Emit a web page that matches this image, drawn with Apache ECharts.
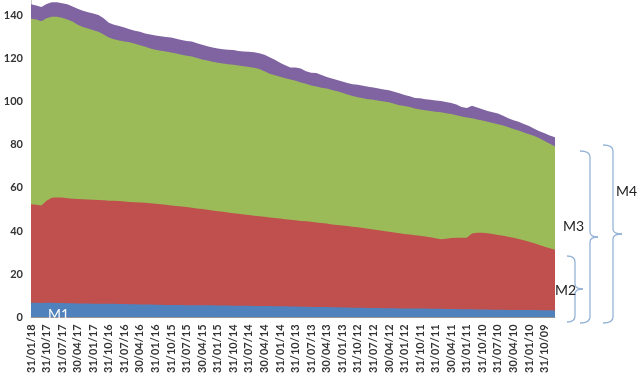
<!DOCTYPE html>
<html>
<head>
<meta charset="utf-8">
<script src="https://cdn.jsdelivr.net/npm/echarts@6/dist/echarts.min.js"></script>
<style>
html,body{margin:0;padding:0;background:#fff;}
#chart{width:640px;height:376px;}
</style>
</head>
<body>
<div id="chart"></div>
<script>
// Month-end categories, most recent first (Jan 2018 back to Aug 2009)
function monthEndLabels(startYear, startMonth, count) {
  var out = [];
  for (var k = 0; k < count; k++) {
    var d = new Date(startYear, startMonth - k, 0); // last day of month (startMonth-k)
    var dd = ('0' + d.getDate()).slice(-2);
    var mm = ('0' + (d.getMonth() + 1)).slice(-2);
    var yy = ('' + d.getFullYear()).slice(-2);
    out.push(dd + '/' + mm + '/' + yy);
  }
  return out;
}
var categories = monthEndLabels(2018, 1, 102);

var m1 = [6.8, 6.8, 6.7, 6.8, 6.8, 6.7, 6.7, 6.6, 6.6, 6.5,
  6.5, 6.5, 6.4, 6.4, 6.3, 6.3, 6.3, 6.2, 6.2, 6.1,
  6.1, 6.0, 6.0, 6.0, 5.9, 5.9, 5.8, 5.8, 5.8, 5.8,
  5.7, 5.7, 5.7, 5.6, 5.6, 5.6, 5.5, 5.5, 5.5, 5.4,
  5.4, 5.4, 5.4, 5.3, 5.3, 5.3, 5.3, 5.2, 5.2, 5.2,
  5.1, 5.1, 5.0, 5.0, 4.9, 4.9, 4.8, 4.8, 4.7, 4.7,
  4.6, 4.6, 4.5, 4.5, 4.5, 4.4, 4.4, 4.4, 4.3, 4.3,
  4.3, 4.2, 4.2, 4.2, 4.1, 4.1, 4.1, 4.0, 4.0, 4.0,
  3.9, 3.9, 3.9, 3.8, 3.8, 3.8, 3.7, 3.7, 3.7, 3.6,
  3.6, 3.6, 3.5, 3.5, 3.5, 3.4, 3.4, 3.4, 3.3, 3.3,
  3.3, 3.2];

var m2 = [52.4, 52.2, 51.8, 54.0, 55.4, 55.6, 55.5, 55.2, 55.0, 54.8,
  54.7, 54.6, 54.5, 54.4, 54.3, 54.1, 54.0, 53.9, 53.7, 53.5,
  53.4, 53.2, 53.1, 52.9, 52.6, 52.4, 52.2, 51.9, 51.6, 51.4,
  51.1, 50.8, 50.5, 50.2, 49.9, 49.5, 49.2, 48.9, 48.6, 48.2,
  48.0, 47.7, 47.4, 47.1, 46.9, 46.6, 46.3, 46.1, 45.8, 45.5,
  45.2, 45.0, 44.7, 44.5, 44.3, 44.0, 43.7, 43.5, 43.1, 42.8,
  42.6, 42.3, 42.0, 41.8, 41.4, 41.1, 40.7, 40.4, 40.0, 39.7,
  39.4, 39.0, 38.7, 38.4, 38.1, 37.8, 37.5, 37.1, 36.7, 36.2,
  36.5, 36.8, 36.9, 36.9, 36.9, 38.9, 39.2, 39.2, 39.0, 38.6,
  38.2, 37.8, 37.4, 36.9, 36.3, 35.8, 35.1, 34.4, 33.6, 32.8,
  32.0, 31.3];

var m3 = [138.3, 138.0, 137.2, 138.5, 139.3, 139.2, 138.8, 138.0, 137.0, 135.5,
  134.5, 133.8, 133.0, 132.3, 131.0, 129.6, 128.8, 128.2, 127.8, 127.4,
  126.7, 126.0, 125.3, 124.6, 124.0, 123.5, 123.2, 122.7, 122.2, 121.6,
  121.2, 120.8, 120.2, 119.5, 119.0, 118.4, 117.9, 117.6, 117.3, 117.0,
  116.7, 116.3, 116.0, 115.6, 115.0, 114.0, 112.9, 112.2, 111.5, 110.8,
  110.2, 109.6, 108.8, 108.2, 107.4, 107.0, 106.4, 106.0, 105.3, 104.7,
  104.0, 103.2, 102.6, 102.0, 101.5, 101.0, 100.8, 100.4, 100.0, 99.6,
  99.0, 98.3, 97.9, 97.5, 96.8, 96.3, 96.0, 95.6, 95.2, 95.0,
  94.6, 94.2, 93.6, 93.0, 92.6, 92.2, 91.7, 91.2, 90.6, 90.1,
  89.5, 88.9, 88.1, 87.3, 86.6, 85.6, 84.8, 84.0, 83.0, 81.7,
  80.4, 79.2];

var m4 = [145.0, 144.5, 143.8, 145.2, 146.0, 146.0, 145.5, 145.0, 144.0, 143.0,
  142.0, 141.3, 140.8, 140.0, 138.5, 136.5, 135.5, 135.0, 134.3, 133.5,
  132.8, 132.3, 131.5, 131.0, 130.6, 130.2, 129.9, 129.6, 129.0, 128.5,
  128.0, 127.8, 127.0, 126.3, 125.6, 125.0, 124.5, 124.2, 124.0, 123.8,
  123.4, 123.2, 123.0, 122.8, 122.3, 121.6, 120.5, 119.3, 118.0, 116.8,
  115.8, 115.7, 115.3, 114.0, 113.3, 113.2, 112.3, 111.4, 110.6, 110.0,
  109.3, 108.6, 108.0, 107.8, 107.3, 106.8, 106.5, 106.0, 105.6, 105.2,
  104.5, 103.8, 103.0, 102.4, 101.6, 101.5, 101.0, 100.8, 100.5, 100.2,
  99.8, 99.3, 98.6, 97.4, 97.0, 98.0, 97.2, 96.4, 95.6, 95.0,
  94.4, 93.4, 92.3, 91.3, 90.6, 89.6, 88.6, 87.4, 86.2, 85.3,
  84.3, 83.5];

var seriesNames = ['M4', 'M3', 'M2', 'M1'];
var seriesData = [m4, m3, m2, m1];
var seriesColors = ['#8064A2', '#9BBB59', '#C0504D', '#4F81BD'];

var braceColor = '#95B3D7';
function brace(x, top, bottom, mid, hook, tip) {
  var st = { stroke: braceColor, lineWidth: 1.3, fill: null };
  return [
    { type: 'bezierCurve', shape: { x1: x - hook, y1: top, x2: x, y2: top + 6, cpx1: x, cpy1: top }, style: st },
    { type: 'line', shape: { x1: x, y1: top + 6, x2: x, y2: mid - 5 }, style: st },
    { type: 'bezierCurve', shape: { x1: x, y1: mid - 5, x2: x + tip, y2: mid, cpx1: x, cpy1: mid }, style: st },
    { type: 'bezierCurve', shape: { x1: x + tip, y1: mid, x2: x, y2: mid + 5, cpx1: x, cpy1: mid }, style: st },
    { type: 'line', shape: { x1: x, y1: mid + 5, x2: x, y2: bottom - 6 }, style: st },
    { type: 'bezierCurve', shape: { x1: x, y1: bottom - 6, x2: x - hook, y2: bottom, cpx1: x, cpy1: bottom }, style: st }
  ];
}

var graphics = []
  .concat(brace(575, 256, 322, 289, 8, 8))
  .concat(brace(590, 151, 323, 237, 10, 8))
  .concat(brace(613, 145, 323, 234, 10, 9));
var txt = function (x, y, s, color) {
  return { type: 'text', x: x, y: y, z: 100, style: { text: s, fill: color, font: '14px Lato', verticalAlign: 'middle', textVerticalAlign: 'middle' } };
};
graphics.push(txt(48, 314, 'M1', '#ffffff'));
graphics.push(txt(555, 290, 'M2', '#222222'));
graphics.push(txt(563, 226, 'M3', '#222222'));
graphics.push(txt(616, 191, 'M4', '#222222'));
graphics.forEach(function (g) { g.z = 100; });

var chart = echarts.init(document.getElementById('chart'), null, { renderer: 'canvas' });
chart.setOption({
  animation: false,
  backgroundColor: '#ffffff',
  grid: { left: 31, right: 85, top: 0, bottom: 54, containLabel: false },
  xAxis: {
    type: 'category',
    data: categories,
    boundaryGap: false,
    axisLine: { show: true, lineStyle: { color: '#c8c8c8', width: 1 } },
    axisTick: { show: false },
    axisLabel: {
      interval: 2,
      rotate: 90,
      margin: 7,
      fontFamily: 'Lato',
      fontWeight: 'bold',
      fontSize: 11,
      color: '#333333'
    },
    splitLine: { show: false }
  },
  yAxis: {
    type: 'value',
    min: 0,
    max: 147,
    interval: 20,
    axisLine: { show: true, lineStyle: { color: '#c8c8c8', width: 1 } },
    axisTick: { show: false },
    splitLine: { show: false },
    axisLabel: {
      showMaxLabel: false,
      margin: 8,
      fontFamily: 'Lato',
      fontWeight: 'bold',
      fontSize: 11,
      color: '#333333'
    }
  },
  series: seriesNames.map(function (n, i) {
    return {
      name: n,
      type: 'line',
      data: seriesData[i],
      showSymbol: false,
      symbol: 'none',
      smooth: false,
      lineStyle: { width: 0 },
      areaStyle: { color: seriesColors[i], opacity: 1 },
      itemStyle: { color: seriesColors[i] },
      z: 2 + i
    };
  }),
  graphic: { elements: graphics }
});
</script>
</body>
</html>
